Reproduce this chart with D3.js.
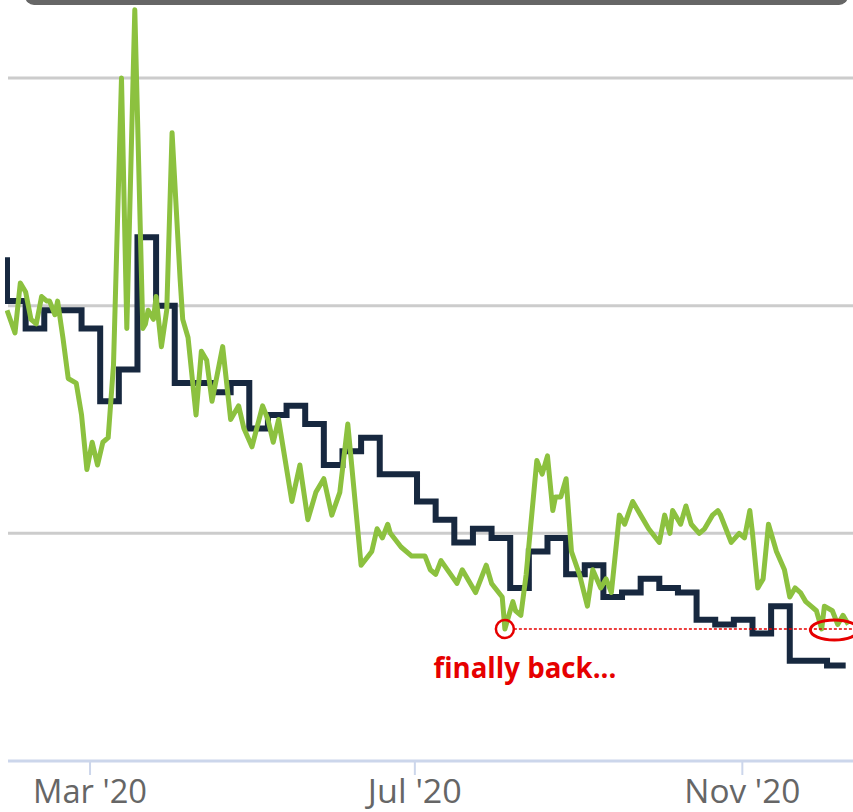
<!DOCTYPE html>
<html>
<head>
<meta charset="utf-8">
<script src="https://cdn.jsdelivr.net/npm/d3@7"></script>
<style>
  body { margin: 0; background: #fff; }
  svg { display: block; }
  .tick-label { font-family: "Open Sans", "DejaVu Sans", sans-serif; fill: #666; }
  .note { font-family: "Open Sans", "DejaVu Sans", sans-serif; font-weight: bold; fill: #e60000; }
</style>
</head>
<body>
<div id="viz_container"></div>
<script>
// weekly survey rate (step line)
const weeklyDates = ["2020-01-23", "2020-01-30", "2020-02-06", "2020-02-13", "2020-02-20", "2020-02-27",
    "2020-03-05", "2020-03-12", "2020-03-19", "2020-03-26", "2020-04-02", "2020-04-09", "2020-04-16",
    "2020-04-23", "2020-04-30", "2020-05-07", "2020-05-14", "2020-05-21", "2020-05-28", "2020-06-04",
    "2020-06-11", "2020-06-18", "2020-06-25", "2020-07-02", "2020-07-09", "2020-07-16", "2020-07-23",
    "2020-07-30", "2020-08-06", "2020-08-13", "2020-08-20", "2020-08-27", "2020-09-03", "2020-09-10",
    "2020-09-17", "2020-09-24", "2020-10-01", "2020-10-08", "2020-10-15", "2020-10-22", "2020-10-29",
    "2020-11-05", "2020-11-12", "2020-11-19", "2020-11-25", "2020-12-03", "2020-12-10"];
const weeklyValues = [3.60, 3.51, 3.45, 3.49, 3.49, 3.45,
    3.29, 3.36, 3.65, 3.50, 3.33, 3.33, 3.31,
    3.33, 3.23, 3.26, 3.28, 3.24, 3.15, 3.18,
    3.21, 3.13, 3.13, 3.07, 3.03, 2.98, 3.01,
    2.99, 2.88, 2.96, 2.99, 2.91, 2.93, 2.86,
    2.87, 2.90, 2.88, 2.87, 2.81, 2.80, 2.81,
    2.78, 2.84, 2.72, 2.72, 2.71, 2.71];

// daily index (green line)
const dailyDates = ["2020-01-30", "2020-02-02", "2020-02-04", "2020-02-06", "2020-02-08", "2020-02-10",
    "2020-02-12", "2020-02-14", "2020-02-15", "2020-02-17", "2020-02-18", "2020-02-20", "2020-02-22",
    "2020-02-25", "2020-02-27", "2020-02-29", "2020-03-02", "2020-03-04", "2020-03-06", "2020-03-08",
    "2020-03-10", "2020-03-13", "2020-03-15", "2020-03-18", "2020-03-21", "2020-03-22", "2020-03-23",
    "2020-03-25", "2020-03-26", "2020-03-28", "2020-03-30", "2020-04-01", "2020-04-04", "2020-04-05",
    "2020-04-07", "2020-04-10", "2020-04-12", "2020-04-14", "2020-04-16", "2020-04-20", "2020-04-23",
    "2020-04-26", "2020-04-28", "2020-05-01", "2020-05-05", "2020-05-07", "2020-05-09", "2020-05-11",
    "2020-05-16", "2020-05-19", "2020-05-22", "2020-05-25", "2020-05-28", "2020-05-31", "2020-06-03",
    "2020-06-06", "2020-06-11", "2020-06-15", "2020-06-17", "2020-06-19", "2020-06-21", "2020-06-22",
    "2020-06-26", "2020-06-30", "2020-07-05", "2020-07-07", "2020-07-09", "2020-07-11", "2020-07-17",
    "2020-07-19", "2020-07-24", "2020-07-28", "2020-07-30", "2020-08-03", "2020-08-04", "2020-08-07",
    "2020-08-08", "2020-08-10", "2020-08-12", "2020-08-16", "2020-08-18", "2020-08-20", "2020-08-22",
    "2020-08-23", "2020-08-25", "2020-08-27", "2020-08-29", "2020-09-01", "2020-09-04", "2020-09-06",
    "2020-09-09", "2020-09-11", "2020-09-13", "2020-09-16", "2020-09-18", "2020-09-21", "2020-09-24",
    "2020-09-27", "2020-10-01", "2020-10-03", "2020-10-05", "2020-10-06", "2020-10-09", "2020-10-11",
    "2020-10-13", "2020-10-16", "2020-10-18", "2020-10-21", "2020-10-23", "2020-10-24", "2020-10-26",
    "2020-10-28", "2020-10-31", "2020-11-02", "2020-11-04", "2020-11-05", "2020-11-07", "2020-11-09",
    "2020-11-11", "2020-11-14", "2020-11-17", "2020-11-19", "2020-11-21", "2020-11-23", "2020-11-25",
    "2020-11-27", "2020-11-29", "2020-12-01", "2020-12-02", "2020-12-05", "2020-12-07", "2020-12-09",
    "2020-12-11"];
const dailyValues = [3.49, 3.44, 3.55, 3.53, 3.47, 3.46,
    3.52, 3.51, 3.51, 3.48, 3.51, 3.43, 3.34,
    3.33, 3.26, 3.14, 3.20, 3.15, 3.20, 3.21,
    3.37, 4.00, 3.45, 4.15, 3.45, 3.46, 3.49,
    3.47, 3.52, 3.41, 3.49, 3.88, 3.56, 3.47,
    3.43, 3.26, 3.40, 3.38, 3.29, 3.41, 3.25,
    3.28, 3.23, 3.19, 3.28, 3.25, 3.20, 3.25,
    3.07, 3.15, 3.03, 3.09, 3.12, 3.04, 3.09,
    3.24, 2.93, 2.96, 3.01, 2.99, 3.02, 3.00,
    2.97, 2.95, 2.95, 2.92, 2.91, 2.94, 2.89,
    2.92, 2.87, 2.93, 2.89, 2.86, 2.79, 2.85,
    2.83, 2.82, 2.91, 3.16, 3.13, 3.17, 3.05,
    3.08, 3.08, 3.12, 2.96, 2.91, 2.84, 2.92,
    2.88, 2.90, 2.87, 3.04, 3.02, 3.07, 3.04,
    3.01, 2.98, 3.04, 3.00, 3.05, 3.02, 3.06,
    3.02, 3.00, 3.01, 3.04, 3.05, 3.04, 3.01,
    2.98, 3.00, 2.99, 3.05, 3.00, 2.88, 2.90,
    3.02, 2.96, 2.92, 2.86, 2.88, 2.87, 2.85,
    2.84, 2.83, 2.79, 2.84, 2.83, 2.80, 2.82,
    2.80];

// axis ticks and annotation
const yGridValues = [3.0, 3.5, 4.0];
const xTickDates = ["2020-03-01", "2020-07-01", "2020-11-01"];
const xTickLabels = ["Mar '20", "Jul '20", "Nov '20"];
const noteLevel = 2.79;
const noteStart = "2020-08-04";
const noteEnd = "2020-12-05";
const noteText = "finally back...";

const parseDate = d3.timeParse("%Y-%m-%d");

// set the dimensions and margins of the graph
const W = 853, H = 812;
const plot = { left: 7, right: 851, top: 0, bottom: 761 };

const svg = d3.select("#viz_container")
    .append("svg")
    .attr("width", W)
    .attr("height", H);

// scales
const xScale = d3.scaleTime()
    .domain([parseDate("2020-01-30"), parseDate("2020-12-12")])
    .range([plot.left, plot.right]);
const yScale = d3.scaleLinear()
    .domain([2.5, 4.0])
    .range([plot.bottom, 78]);

// box edge peeking in at the top
svg.append("rect")
    .attr("x", 25)
    .attr("y", -24)
    .attr("width", 823)
    .attr("height", 29)
    .attr("rx", 9)
    .attr("fill", "#666");

// horizontal grid lines
svg.append("g")
    .selectAll("line")
    .data(yGridValues)
    .join("line")
    .attr("x1", 8)
    .attr("x2", W)
    .attr("y1", d => yScale(d))
    .attr("y2", d => yScale(d))
    .attr("stroke", "#cccccc")
    .attr("stroke-width", 3);

// x axis
const xAxis = svg.append("g")
    .attr("transform", `translate(0,${plot.bottom})`)
    .call(d3.axisBottom(xScale)
        .tickValues(xTickDates.map(parseDate))
        .tickFormat((d, i) => xTickLabels[i])
        .tickSize(14)
        .tickSizeOuter(0));
xAxis.select(".domain")
    .attr("d", `M8,0H${W}`)
    .attr("stroke", "#ccd6eb")
    .attr("stroke-width", 3);
xAxis.selectAll(".tick line")
    .attr("stroke", "#ccd6eb")
    .attr("stroke-width", 2);
xAxis.selectAll(".tick text")
    .attr("class", "tick-label")
    .attr("font-size", 32)
    .attr("y", 42)
    .attr("dy", 0)
    .attr("fill", "#666")
    .attr("lengthAdjust", "spacingAndGlyphs")
    .attr("textLength", (d, i) => [114, 94, 116][i]);

// clip the lines to the plot area
svg.append("clipPath")
    .attr("id", "plot-clip")
    .append("rect")
    .attr("x", plot.left - 2)
    .attr("y", -20)
    .attr("width", W)
    .attr("height", plot.bottom + 20);

const weekly = weeklyDates.map((d, i) => ({ date: parseDate(d), value: weeklyValues[i] }));
const daily = dailyDates.map((d, i) => ({ date: parseDate(d), value: dailyValues[i] }));

const stepLine = d3.line()
    .x(d => xScale(d.date))
    .y(d => yScale(d.value))
    .curve(d3.curveStepAfter);
const dailyLine = d3.line()
    .x(d => xScale(d.date))
    .y(d => yScale(d.value));

const lines = svg.append("g").attr("clip-path", "url(#plot-clip)");
lines.append("path")
    .datum(weekly)
    .attr("d", stepLine)
    .attr("fill", "none")
    .attr("stroke", "#17283f")
    .attr("stroke-width", 6)
    .attr("stroke-linejoin", "miter");
lines.append("path")
    .datum(daily)
    .attr("d", dailyLine)
    .attr("fill", "none")
    .attr("stroke", "#8cc13f")
    .attr("stroke-width", 5)
    .attr("stroke-linejoin", "round");

// annotation
const noteY = yScale(noteLevel);
const noteX0 = xScale(parseDate(noteStart));
const noteX1 = xScale(parseDate(noteEnd));
svg.append("line")
    .attr("x1", noteX0 + 9)
    .attr("x2", W)
    .attr("y1", noteY)
    .attr("y2", noteY)
    .attr("stroke", "#e60000")
    .attr("stroke-width", 1.5)
    .attr("stroke-dasharray", "3,2");
svg.append("circle")
    .attr("cx", noteX0)
    .attr("cy", noteY)
    .attr("r", 9)
    .attr("fill", "none")
    .attr("stroke", "#e60000")
    .attr("stroke-width", 2.5);
svg.append("ellipse")
    .attr("cx", noteX1 + 2)
    .attr("cy", noteY + 1)
    .attr("rx", 24)
    .attr("ry", 10)
    .attr("fill", "none")
    .attr("stroke", "#e60000")
    .attr("stroke-width", 3);
svg.append("text")
    .attr("class", "note")
    .attr("x", noteX0 + 20)
    .attr("y", noteY + 49)
    .attr("text-anchor", "middle")
    .attr("font-size", 29)
    .attr("lengthAdjust", "spacingAndGlyphs")
    .attr("textLength", 183)
    .text(noteText);
</script>
</body>
</html>
